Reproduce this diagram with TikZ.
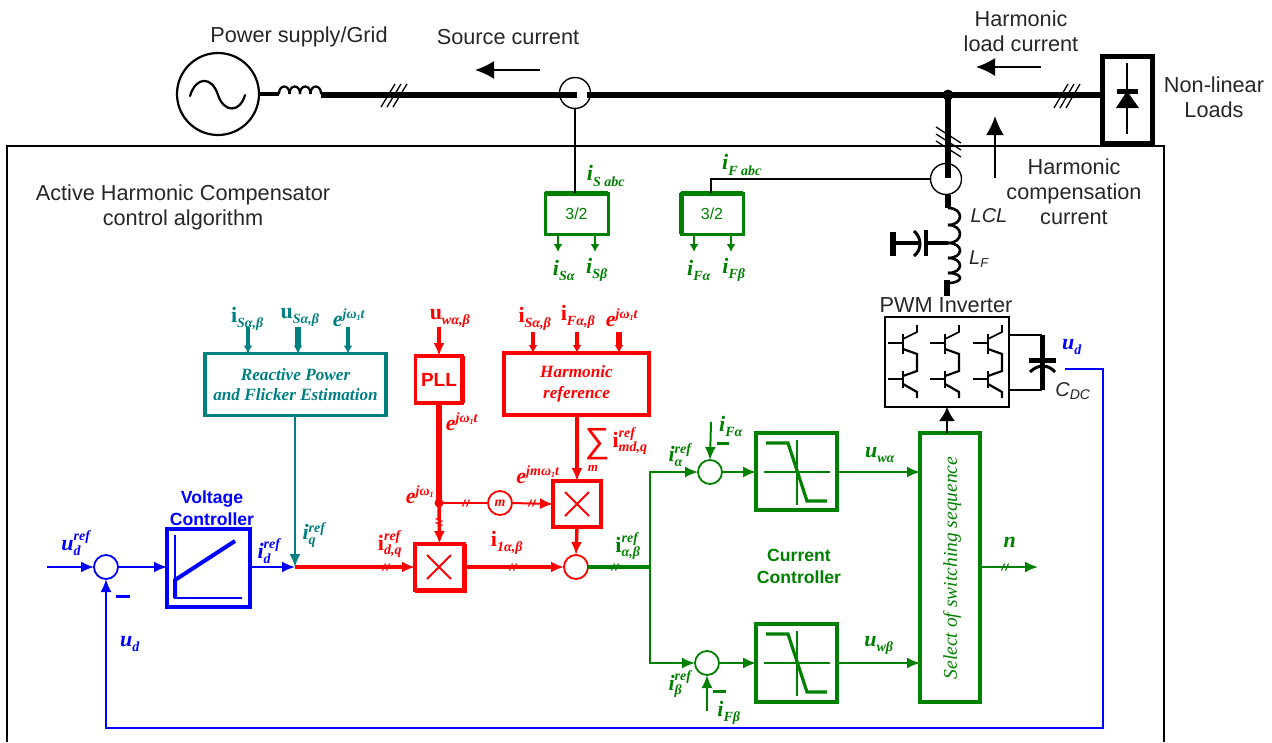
\documentclass[tikz,border=0pt]{standalone}
\usepackage{fontspec}
\setmainfont{Liberation Sans}
\newfontfamily\ser{Liberation Serif}
\usetikzlibrary{arrows.meta}
\definecolor{tl}{RGB}{0,128,128}
\definecolor{gn}{RGB}{0,128,0}
\definecolor{rd}{RGB}{255,0,0}
\definecolor{bl}{RGB}{0,0,255}
\newcommand{\subf}{\fontsize{14}{14}\selectfont\ser\bfseries\itshape}
\newcommand{\vbl}[3]{{\ser\bfseries #1}$_{\hbox{\subf #2}}^{\hbox{\subf #3}}$}
\newcommand{\ibl}[3]{{\ser\itshape\bfseries #1}$_{\hbox{\subf #2}}^{\hbox{\subf #3}}$}
\newcommand{\omo}{ω\raisebox{-1.5pt}{\fontsize{8}{8}\selectfont 1}}
\newcommand{\hashes}[3]{\foreach \d in {-2,2}{\draw[#1,line width=1.2pt] (#2+\d-1.5,#3+3.5) -- (#2+\d+1.5,#3-3.5);}}
\newcommand{\hashv}[3]{\foreach \d in {-2,2}{\draw[#1,line width=1.2pt] (#2-3.5,#3+\d-1.5) -- (#2+3.5,#3+\d+1.5);}}
\tikzset{
 every node/.style={inner sep=0pt,outer sep=0pt},
 txt/.style={font=\fontsize{21.7}{25}\selectfont,align=center,text=black!85},
 lab/.style={font=\fontsize{22}{24}\selectfont\ser},
 boxt/.style={font=\fontsize{17.2}{20.5}\selectfont\ser\itshape\bfseries,align=center},
 bold/.style={font=\fontsize{17.6}{22}\selectfont\bfseries,align=center},
 bx/.style={draw,rectangle,line width=3.5pt},
 sm/.style={draw,circle,minimum size=#1,line width=1.8pt},
 sm/.default=24pt,
 ar/.style={-{Latex[length=13pt,width=11pt]}},
 sar/.style={-{Latex[length=8pt,width=9pt]}},
 bar/.style={-{Latex[length=19pt,width=18pt]},line width=2pt},
 wire/.style={line width=6pt,black},
 w1/.style={line width=2pt},
 w2/.style={line width=3.4pt},
 w3/.style={line width=6pt}
}
\begin{document}
\begin{tikzpicture}[x=1pt,y=-1pt]
\useasboundingbox (0,0) rectangle (1272,742);
% frame
\coordinate (fa) at (7,742); \coordinate (fb) at (7,146); \coordinate (fc) at (1164,146); \coordinate (fd) at (1164,742);
\draw[line width=1.4pt] (fa) -- (fb) -- (fc) -- (fd);
% power line
\node[draw,circle,minimum size=82pt,line width=2.2pt] (src) at (218,94) {};
\draw[line width=2.2pt,line cap=round] (190,96) .. controls (196,76) and (212,76) .. (218,95) .. controls (224,113) and (240,113) .. (245,95);
\coordinate (l1a) at (279,94); \coordinate (l1b) at (321,95);
\draw[line width=3.5pt] (src.east) -- (l1a);
\foreach \x in {279,289.5,300,310.5}{\draw[line width=2.2pt] (\x,94) .. controls (\x,84) and (\x+10.5,84) .. (\x+10.5,94);}
\node[draw,circle,minimum size=31pt,line width=1.4pt] (s1) at (575,93) {};
\coordinate (s1a) at (577,95); \coordinate (s1b) at (587,95);
\coordinate (junc) at (948,95);
\draw[wire] (l1b) -- (s1a);
\draw[wire] (s1b) -- (junc);
\node[draw,rectangle,line width=5pt,minimum width=50pt,minimum height=87pt] (load) at (1127,99.5) {};
\draw[wire] (junc) -- (load.west |- junc);
\fill (junc) circle[radius=5.5pt];
\foreach \d in {0,6,12}{\draw[line width=1.3pt] (381+\d,107) -- (395+\d,84); \draw[line width=1.3pt] (1054+\d,108) -- (1068+\d,84);}
\coordinate (da) at (1127,63); \coordinate (db) at (1127,134);
\draw[line width=2.4pt] (da) -- (db);
\fill (1117,88.5) rectangle (1138,93.5);
\fill (1127,91) -- (1139,108) -- (1116,108) -- cycle;
\node[txt] (tps) at (299,37) {Power supply/Grid};
\node[txt] (tsc) at (508,37) {Source current};
\node[txt] (thl) at (1021,31.5) {Harmonic\\load current};
\node[txt] (tnl) at (1214,97.5) {Non-linear\\Loads};
\node[txt] (thc) at (1074,192) {Harmonic\\compensation\\current};
\node[txt] (tac) at (183,207.5) {Active Harmonic Compensator\\control algorithm};
\coordinate (a1a) at (540,70); \coordinate (a1b) at (475,70);
\draw[bar] (a1a) -- (a1b);
\coordinate (a2a) at (1041,67); \coordinate (a2b) at (976,67);
\draw[bar] (a2a) -- (a2b);
\coordinate (a3a) at (995,178); \coordinate (a3b) at (995,116);
\draw[bar] (a3a) -- (a3b);
% filter branch
\node[draw,circle,minimum size=31pt,line width=1.4pt] (s2) at (946,179) {};
\draw[wire] (junc) -- (948,178);
\foreach \d in {0,7,14}{\draw[line width=1.3pt] (936,127+\d) -- (961,143+\d);}
\draw[wire] (948,195) -- (948,208);
\foreach \a/\b in {208/225,225/243,243/258,258/273,273/283}{\draw[line width=2.6pt] (948,\a) .. controls (964,\a) and (964,\b) .. (948,\b);}
\draw[wire] (947,280) -- (947,296);
\draw[line width=4.5pt] (948,243) -- (926,243);
\draw[line width=4.5pt] (926,230) -- (926,256);
\draw[line width=3pt] (914,231) .. controls (922,238) and (922,250) .. (914,256);
\draw[line width=4.5pt] (893,243) -- (919,243);
\draw[line width=5.5pt] (893,232) -- (893,256);
\node[font=\fontsize{20}{22}\selectfont\itshape,text=black!85] (tlcl) at (989,216) {LCL};
\node[font=\fontsize{20}{22}\selectfont\itshape,text=black!85] (tlf) at (979,259) {L$_{\hbox{\fontsize{13}{13}\selectfont\itshape F}}$};
% PWM inverter
\node[txt] (tpwm) at (946,305) {PWM Inverter};
\node[draw,rectangle,line width=2pt,minimum width=124pt,minimum height=90pt] (pwm) at (947,362) {};
\foreach \x in {903,945,988}{
 \draw[line width=1.5pt] (\x-15,343) -- (\x,343);
 \draw[line width=2.2pt] (\x,334) -- (\x,354);
 \draw[line width=1.7pt] (\x,339) -- (\x+14,332) -- (\x+14,325);
 \draw[line width=2.2pt] (\x,349) -- (\x+14,354) -- (\x+14,371) -- (\x,376);
 \draw[line width=1.5pt] (\x-15,379) -- (\x,379);
 \draw[line width=2.2pt] (\x,371) -- (\x,388);
 \draw[line width=2.2pt] (\x,384) -- (\x+14,392) -- (\x+14,398);
}
\coordinate (ca) at (1042,335); \coordinate (cb) at (1042,390);
\draw[line width=2pt] (pwm.east |- ca) -- (ca);
\draw[line width=2pt] (pwm.east |- cb) -- (cb);
\draw[line width=5pt] (ca) -- (cb);
\draw[line width=5pt] (1029,360) -- (1056,360);
\draw[line width=3pt] (1030,372) .. controls (1038,364) and (1048,364) .. (1055,372);
\node[font=\fontsize{20}{22}\selectfont\itshape,text=black!85] (tcdc) at (1073,391) {C$_{\hbox{\fontsize{14}{14}\selectfont\itshape DC}}$};
% 3/2 converters
\node[draw=gn,rectangle,line width=3pt,minimum width=63pt,minimum height=41pt,text=gn,font=\fontsize{16}{18}\selectfont] (c1) at (576.5,213.5) {3/2};
\draw[gn,line width=5pt] (c1.north west) -- (c1.north east);
\node[draw=gn,rectangle,line width=3pt,minimum width=62pt,minimum height=41pt,text=gn,font=\fontsize{16}{18}\selectfont] (c2) at (712,213.5) {3/2};
\draw[gn,line width=5pt] (c2.north west) -- (c2.north east);
\draw[gn,line width=5pt] (c2.north west) -- (c2.south west);
\draw[line width=1.4pt] (s1.south) -- (s1.south |- c1.north);
\coordinate (fbn) at (711,179);
\draw[line width=1.4pt] (s2.west) -- (fbn) -- (fbn |- c2.north);
\foreach \n/\x/\c in {o1/558/c1,o2/595/c1,o3/694/c2,o4/731/c2}{
 \coordinate (\n) at (\x,252);
 \draw[gn,sar,line width=1.8pt] (\n |- \c.south) -- (\n);
}
\node[lab,text=gn] (liS) at (606,176) {\ibl{i}{S abc}{}};
\node[lab,text=gn] (liF) at (742,165) {\ibl{i}{F abc}{}};
\node[lab,text=gn] (liSa) at (564,270) {\ibl{i}{Sα}{}};
\node[lab,text=gn] (liSb) at (597,270) {\ibl{i}{Sβ}{}};
\node[lab,text=gn] (liFa) at (699,270) {\ibl{i}{Fα}{}};
\node[lab,text=gn] (liFb) at (734,270) {\ibl{i}{Fβ}{}};
% teal block
\node[bx,draw=tl,text=tl,boxt,minimum width=181pt,minimum height=62pt] (rp) at (295.5,384.5) {Reactive Power\\and Flicker Estimation};
\foreach \n/\x/\w in {t1/248/w2,t2/298/w3,t3/348/w2}{
 \coordinate (\n) at (\x,327);
 \draw[tl,\w,sar] (\n) -- (\n |- rp.north);
}
\node[lab,text=tl] (lt1) at (247.5,319) {\vbl{i}{Sα,β}{}};
\node[lab,text=tl] (lt2) at (300,317) {\vbl{u}{Sα,β}{}};
\node[lab,text=tl] (lt3) at (349,318) {{\itshape\bfseries e}$^{\hbox{\subf j\omo t}}$};
% red blocks
\node[bx,draw=rd,text=rd,font=\fontsize{19}{20}\selectfont\bfseries,minimum width=47pt,minimum height=47pt] (pll) at (439,379.5) {PLL};
\draw[rd,line width=5.5pt] (pll.north east) -- (pll.south east);
\coordinate (pa) at (439,327);
\draw[rd,w2,ar] (pa) -- (pll.north);
\node[lab,text=rd] (lp) at (450,318) {\vbl{u}{wα,β}{}};
\node[bx,draw=rd,text=rd,boxt,minimum width=145pt,minimum height=62pt] (hr) at (576.5,384) {Harmonic\\reference};
\foreach \n/\x/\w in {r1/533/w2,r2/577/w2,r3/619/w3}{
 \coordinate (\n) at (\x,332);
 \draw[rd,\w,sar] (\n) -- (\n |- hr.north);
}
\node[lab,text=rd] (lr1) at (535,319) {\vbl{i}{Sα,β}{}};
\node[lab,text=rd] (lr2) at (578,317) {\vbl{i}{Fα,β}{}};
\node[lab,text=rd] (lr3) at (622,318) {{\itshape\bfseries e}$^{\hbox{\subf j\omo t}}$};
\node[lab,text=rd] (lpe) at (462,422) {{\itshape\bfseries e}$^{\hbox{\subf j\omo t}}$};
\node[bx,draw=rd,minimum width=48pt,minimum height=46pt] (mu) at (577,504) {};
\draw[rd,line width=1.8pt] (565,492) -- (589,516) (565,516) -- (589,492);
\node[bx,draw=rd,minimum width=49pt,minimum height=46pt] (ml) at (439.5,567) {};
\draw[rd,line width=1.8pt] (427,555) -- (451,579) (427,579) -- (451,555);
\draw[rd,line width=5pt] (ml.north east) -- (ml.south east) -- (ml.south west);
\node[sm,draw=rd] (s6) at (576,567) {};
\node[sm,draw=rd,font=\fontsize{14}{14}\selectfont\ser\itshape\bfseries,text=rd] (mc) at (500,503) {m};
\coordinate (dot) at (439,503);
\draw[rd,w3] (pll.south) -- (dot);
\fill[rd] (dot) circle[radius=4.5pt];
\draw[rd,w2,ar] (dot) -- (ml.north);
\draw[rd,w1] (dot) -- (mc.west);
\draw[rd,w1,ar] (mc.east) -- (mu.west);
\draw[rd,w2,ar] (hr.south -| mu.north) -- (mu.north);
\draw[rd,w2,ar] (mu.south) -- (s6.north);
\draw[rd,w2,ar] (ml.east) -- (s6.west);
\node[font=\fontsize{35}{35}\selectfont,text=rd] (lsum) at (597,444) {∑};
\node[font=\fontsize{13}{13}\selectfont\ser\itshape\bfseries,text=rd] (lsmm) at (593,468) {m};
\node[lab,text=rd] (lsi) at (630,441) {\vbl{i}{md,q}{ref}};
\node[lab,text=rd] (lea) at (420,495) {{\itshape\bfseries e}$^{\hbox{\subf j\omo}}$};
\node[lab,text=rd] (leb) at (538,475) {{\itshape\bfseries e}$^{\hbox{\subf jm\omo t}}$};
\node[lab,text=rd] (lid) at (390,544) {\vbl{i}{d,q}{ref}};
\node[lab,text=rd] (li1) at (507,543) {\vbl{i}{1α,β}{}};
% blue
\coordinate (uin) at (47,567);
\node[sm,draw=bl] (s0) at (106,567) {};
\draw[bl,w1,ar] (uin) -- (s0.west);
\node[bx,draw=bl,line width=4.5pt,minimum width=83pt,minimum height=78pt] (vc) at (208.5,568) {};
\draw[bl,w1,ar] (s0.east) -- (vc.west |- s0.east);
\coordinate (jn) at (295,567);
\draw[bl,w1,ar] (vc.east |- jn) -- (jn);
\draw[tl,w1,ar] (rp.south -| jn) -- (jn);
\draw[rd,w2,ar] (jn) -- (ml.west);
\draw[bl,line width=1.8pt] (175,535) -- (175,598) -- (242,598);
\draw[bl,line width=4pt] (175,598) -- (175,580) -- (235,541);
\coordinate (fbS) at (1065,369); \coordinate (fbR) at (1103,728);
\draw[bl,w1,ar] (fbS) -| (fbR) -| (s0.south);
\draw[bl,line width=3pt] (116,596) -- (130,596);
\node[bold,text=bl] (tvc) at (212,508) {Voltage\\Controller};
\node[lab,text=bl] (lu) at (76,543) {\ibl{u}{d}{ref}};
\node[lab,text=bl] (li) at (269,551) {\ibl{i}{d}{ref}};
\node[lab,text=bl] (lfb) at (130,644) {\ibl{u}{d}{}};
\node[lab,text=bl] (lud) at (1072,347) {\ibl{u}{d}{}};
\node[lab,text=tl] (liq) at (314,535) {\ibl{i}{q}{ref}};
% green
\coordinate (gj) at (650,567); \coordinate (ga) at (650,472); \coordinate (gb) at (650,663);
\draw[gn,w2] (s6.east) -- (gj);
\node[sm,draw=gn] (s3) at (710,472) {};
\node[sm,draw=gn] (s4) at (707,663) {};
\draw[gn,w1,ar] (gj) -- (ga) -- (s3.west);
\draw[gn,w1,ar] (gj) -- (gb) -- (s4.west);
\node[bx,draw=gn,minimum width=81pt,minimum height=77pt] (cc1) at (796.5,471.5) {};
\node[bx,draw=gn,minimum width=81pt,minimum height=78pt] (cc2) at (796.5,663) {};
\node[bx,draw=gn,minimum width=60pt,minimum height=269pt] (sw) at (950,567.5) {};
\node[rotate=90,text=gn,font=\fontsize{19.5}{22}\selectfont\ser\itshape] (tsw) at (952,568) {Select of switching sequence};
\draw[gn,w1,ar] (s3.east) -- (cc1.west |- s3.east);
\draw[gn,w1,ar] (s4.east) -- (cc2.west |- s4.east);
\draw[gn,w1,ar] (cc1.east |- s3.east) -- (sw.west |- s3.east);
\draw[gn,w1,ar] (cc2.east |- s4.east) -- (sw.west |- s4.east);
\foreach \o in {0,191}{
 \draw[gn,w1] (764,472+\o) -- (830,472+\o);
 \draw[gn,w1] (797,440+\o) -- (797,505+\o);
 \draw[gn,line width=3.2pt] (766,443+\o) -- (788,443+\o) -- (807,501+\o) -- (827,501+\o);
}
\coordinate (nout) at (1038,567);
\draw[gn,w1,ar] (sw.east |- nout) -- (nout);
\coordinate (fa1) at (711,422); \coordinate (fa2) at (707,711);
\draw[gn,w1,ar] (fa1) -- (s3.north);
\draw[gn,w1,ar] (fa2) -- (s4.south);
\draw[gn,line width=3pt] (717,443) -- (729,443);
\draw[gn,line width=3pt] (713,691) -- (726,691);
\node[bold,text=gn] (tcc) at (799,566) {Current\\Controller};
\node[lab,text=gn] (lia) at (628,546) {\vbl{i}{α,β}{ref}};
\node[lab,text=gn] (liar) at (680,455) {\ibl{i}{α}{ref}};
\node[lab,text=gn] (libr) at (680,684) {\ibl{i}{β}{ref}};
\node[lab,text=gn] (lifa) at (731,426) {\ibl{i}{Fα}{}};
\node[lab,text=gn] (lifb) at (729,713) {\ibl{i}{Fβ}{}};
\node[lab,text=gn] (luwa) at (880,455) {\ibl{u}{wα}{}};
\node[lab,text=gn] (luwb) at (879,645) {\ibl{u}{wβ}{}};
\node[lab,text=gn] (ln) at (1010,545) {\ibl{n}{}{}};
% drive arrow
\draw[line width=1.8pt,-{Latex[length=14pt,width=16pt]}] (sw.north -| pwm.south) -- (pwm.south);
% hash ticks
\hashes{rd}{386}{567}\hashes{rd}{513}{567}\hashes{gn}{615}{567}
\hashes{rd}{466}{503}\hashes{rd}{532}{503}\hashes{gn}{1005}{567}
\hashv{rd}{439}{522}
\end{tikzpicture}
\end{document}
